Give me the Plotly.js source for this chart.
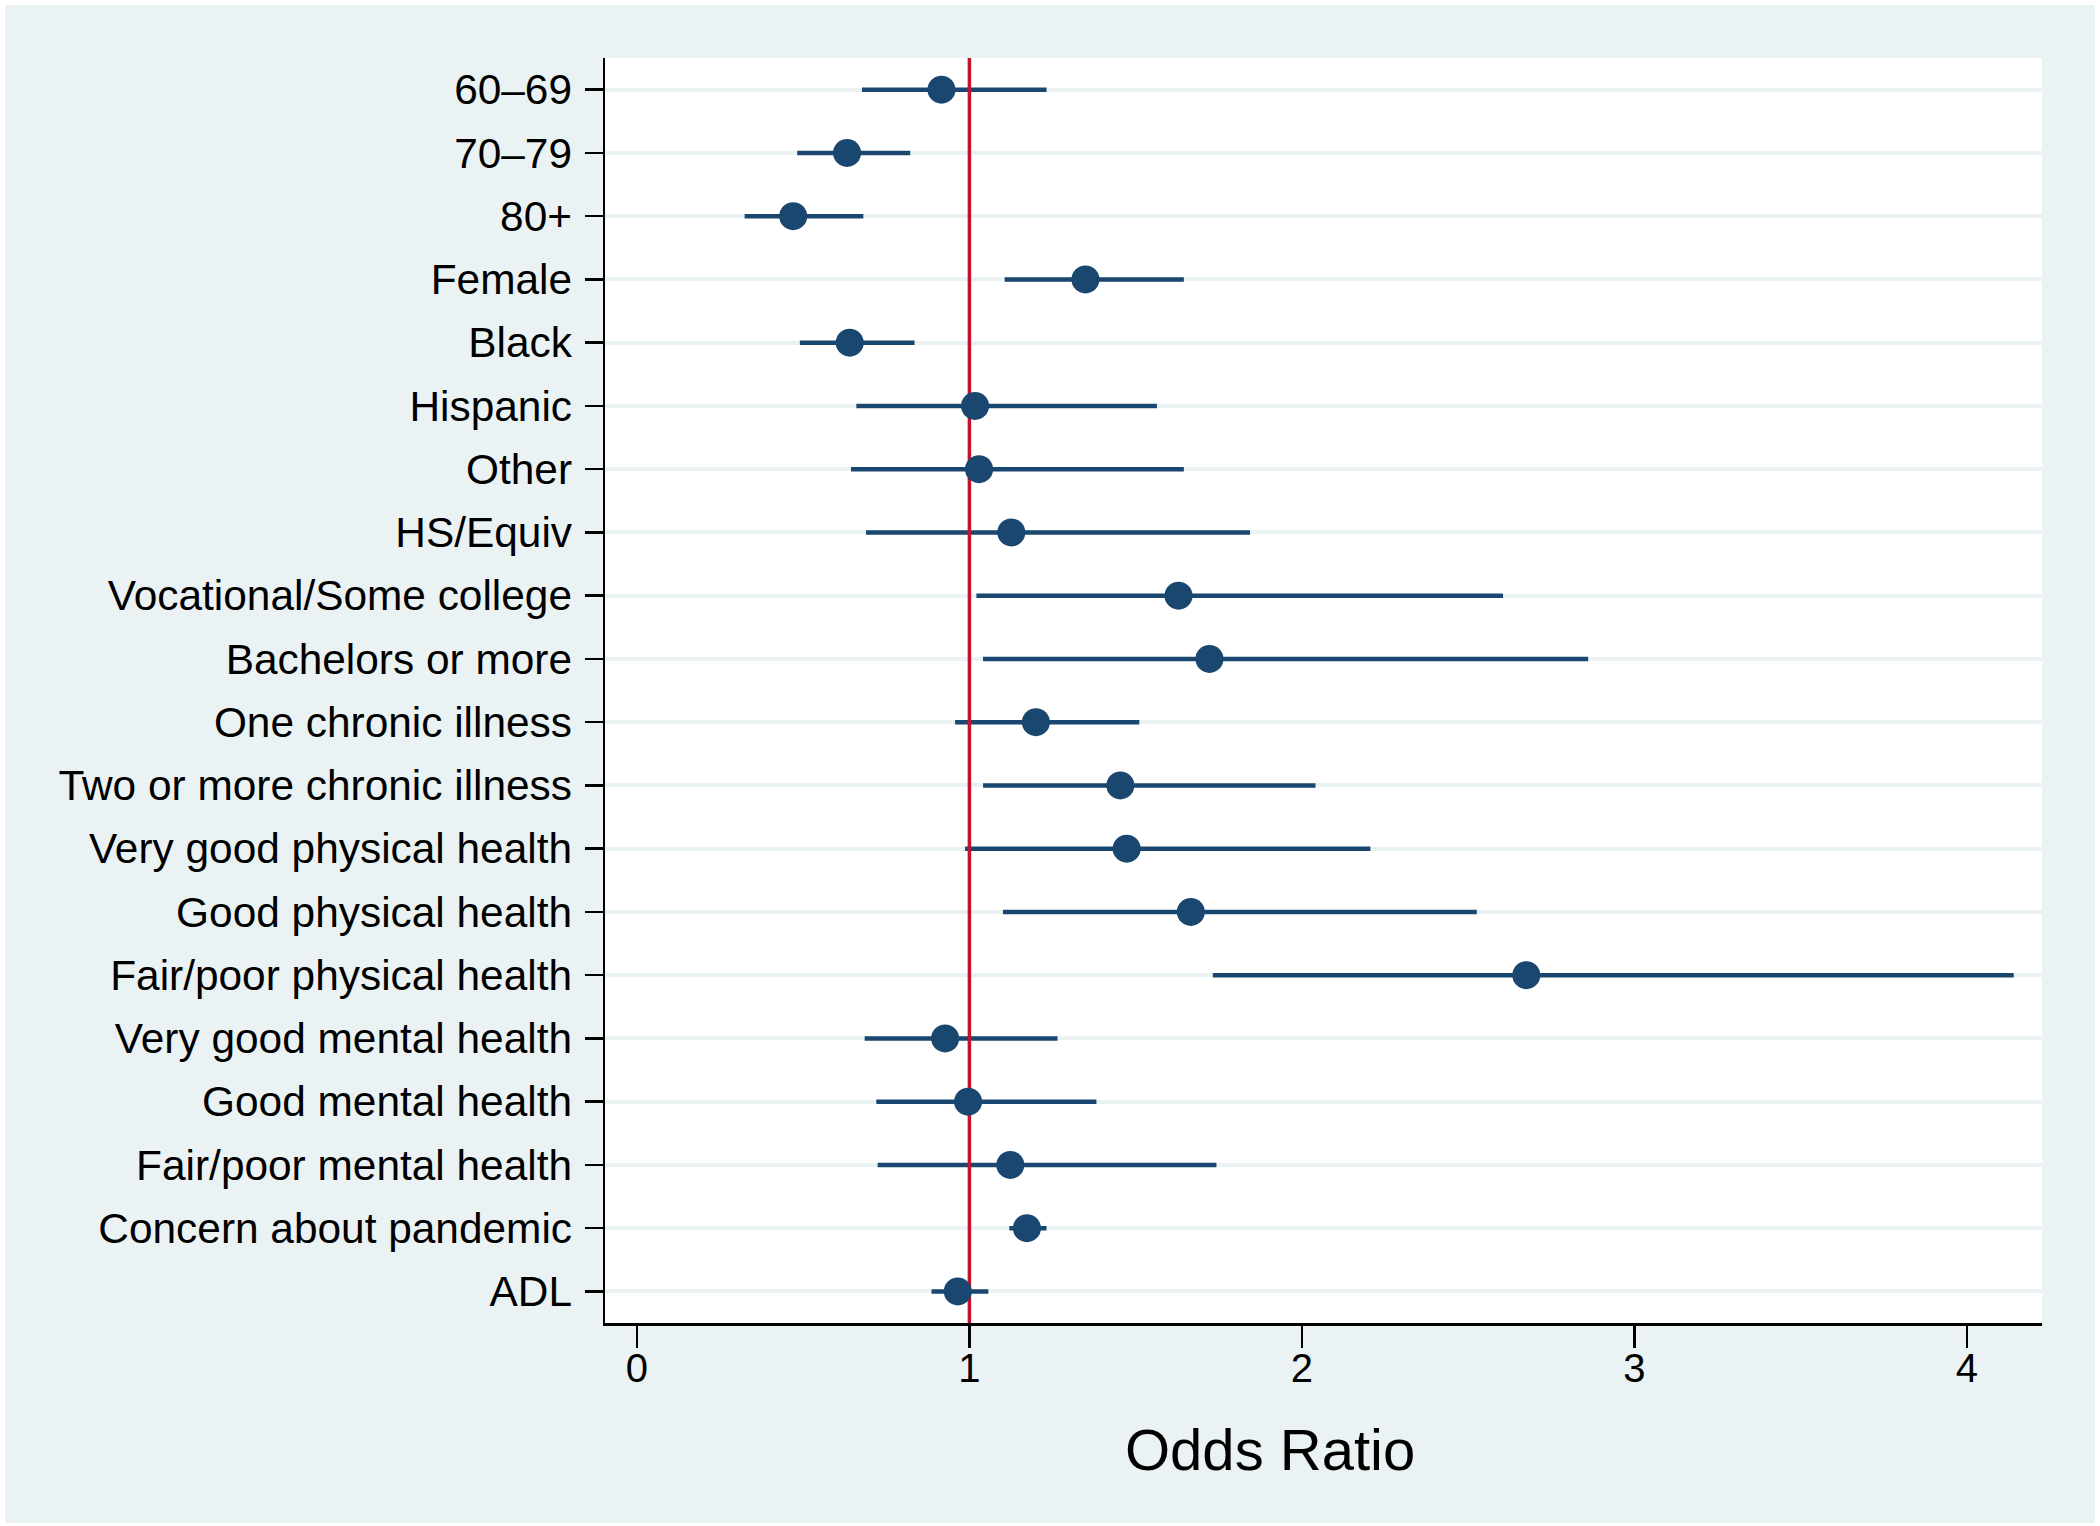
<!DOCTYPE html>
<html>
<head>
<meta charset="utf-8">
<script src="https://cdn.plot.ly/plotly-3.0.1.min.js"></script>
<style>
  html, body { margin: 0; padding: 0; background: #ffffff; width: 2100px; height: 1526px; overflow: hidden; }
  #chart { position: absolute; left: 5px; top: 5px; width: 2090px; height: 1518px; }
</style>
</head>
<body>
<div id="chart"></div>
<script>
// ---- data ----
const categories = [
  "60–69", "70–79", "80+", "Female", "Black", "Hispanic", "Other", "HS/Equiv",
  "Vocational/Some college", "Bachelors or more", "One chronic illness",
  "Two or more chronic illness", "Very good physical health", "Good physical health",
  "Fair/poor physical health", "Very good mental health", "Good mental health",
  "Fair/poor mental health", "Concern about pandemic", "ADL"
];
const oddsRatio = [0.916, 0.632, 0.470, 1.349, 0.640, 1.017, 1.029, 1.126,
  1.629, 1.722, 1.200, 1.454, 1.473, 1.666, 2.675, 0.927, 0.996, 1.123, 1.173, 0.965];
const ciLow = [0.677, 0.482, 0.324, 1.106, 0.490, 0.660, 0.644, 0.689,
  1.021, 1.041, 0.957, 1.041, 0.987, 1.101, 1.732, 0.685, 0.720, 0.724, 1.120, 0.886];
const ciHigh = [1.232, 0.822, 0.681, 1.645, 0.835, 1.564, 1.645, 1.844,
  2.605, 2.861, 1.511, 2.041, 2.206, 2.526, 4.141, 1.265, 1.382, 1.743, 1.232, 1.057];
const referenceValue = 1;
const xTickVals = [0, 1, 2, 3, 4];
const xTitle = "Odds Ratio";

// ---- styling ----
const NAVY = "#1A476F";
const RED = "#C4122F";
const BG = "#EAF2F3";
const FONT = "Liberation Sans, Arial, Helvetica, sans-serif";

const idx = categories.map((_, i) => i);
const n = categories.length;

const ciTrace = {
  type: "scatter", mode: "markers",
  x: oddsRatio, y: idx,
  marker: { size: 1, opacity: 0, color: NAVY },
  error_x: {
    type: "data", symmetric: false,
    array: oddsRatio.map((v, i) => ciHigh[i] - v),
    arrayminus: oddsRatio.map((v, i) => v - ciLow[i]),
    color: NAVY, thickness: 4.5, width: 0
  },
  hoverinfo: "skip", showlegend: false
};

const refTrace = {
  type: "scatter", mode: "lines",
  x: [referenceValue, referenceValue], y: [-0.5, n - 0.5],
  line: { color: RED, width: 3.5 },
  hoverinfo: "skip", showlegend: false, cliponaxis: true
};

const pointTrace = {
  type: "scatter", mode: "markers",
  x: oddsRatio, y: idx,
  marker: { size: 28, color: NAVY, line: { width: 0 } },
  showlegend: false
};

const layout = {
  width: 2090, height: 1518,
  paper_bgcolor: BG, plot_bgcolor: "#ffffff",
  margin: { l: 600, r: 53, t: 53, b: 200 },
  font: { family: FONT, color: "#000000", size: 42 },
  showlegend: false,
  xaxis: {
    range: [-0.096, 4.226],
    tickvals: xTickVals, ticktext: xTickVals.map(String),
    ticks: "outside", ticklen: 22, tickwidth: 2.5, tickcolor: "#000000",
    showline: true, linecolor: "#000000", linewidth: 3,
    showgrid: false, zeroline: false,
    tickfont: { family: FONT, size: 40, color: "#000000" },
    ticklabelstandoff: -14
  },
  yaxis: {
    range: [n - 0.5, -0.5],
    tickvals: idx, ticktext: categories,
    ticks: "outside", ticklen: 18, tickwidth: 2.5, tickcolor: "#000000",
    showline: true, linecolor: "#000000", linewidth: 2.5,
    showgrid: true, gridcolor: BG, gridwidth: 4,
    zeroline: false,
    tickfont: { family: FONT, size: 42.4, color: "#000000" },
    ticklabelstandoff: 4
  },
  annotations: [{
    text: xTitle, xref: "paper", yref: "paper",
    x: 0.463, y: -0.100, xanchor: "center", yanchor: "middle",
    showarrow: false, font: { family: FONT, size: 58, color: "#000000" }
  }]
};

Plotly.newPlot("chart", [ciTrace, refTrace, pointTrace], layout, { displayModeBar: false, staticPlot: true });
</script>
</body>
</html>
